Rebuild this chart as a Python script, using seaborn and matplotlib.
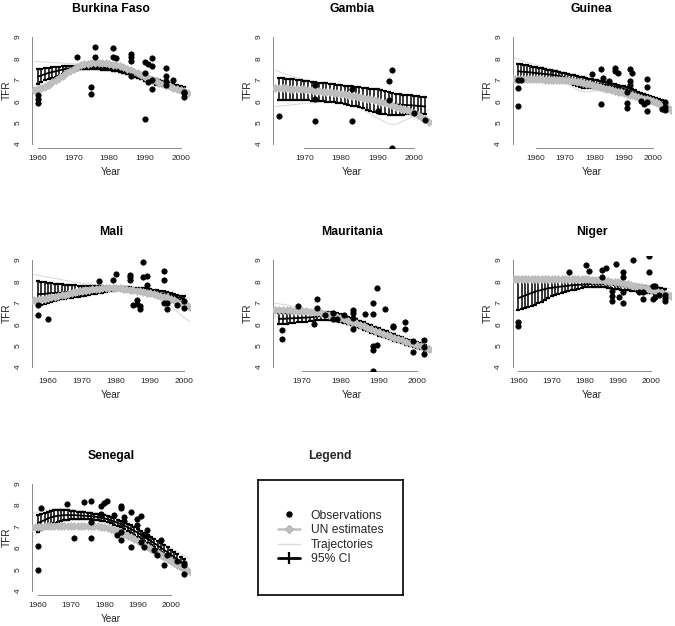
import numpy as np
import matplotlib
matplotlib.use('Agg')
import matplotlib.pyplot as plt
import seaborn as sns
from matplotlib.lines import Line2D
from matplotlib.ticker import MultipleLocator

sns.set_style('white')
plt.rcParams['font.family'] = ['Liberation Sans', 'DejaVu Sans']

countries = ['Burkina Faso', 'Gambia', 'Guinea', 'Mali', 'Mauritania', 'Niger', 'Senegal']

# observed TFR (survey year, value)
obs_year = {
    'Burkina Faso': [1960, 1960, 1960, 1971, 1975, 1975, 1976, 1976, 1981, 1981, 1982, 1986, 1986, 1986, 1986,
                     1990, 1990, 1990, 1991, 1991, 1992, 1992, 1992, 1992, 1996, 1996, 1996, 1996, 1998,
                     2001, 2001, 2001],
    'Gambia': [1963, 1973, 1973, 1973, 1983, 1983, 1990, 1993, 1993, 1994, 1994, 2000, 2003],
    'Guinea': [1954, 1954, 1954, 1955, 1979.2, 1982.2, 1982.2, 1983, 1985, 1987, 1987, 1988.1, 1991, 1991, 1991,
               1992, 1992, 1992, 1993, 1996, 1997, 1998, 1998, 1998, 1998, 2003, 2004, 2004, 2004],
    'Mali': [1957, 1957, 1960, 1975, 1979, 1980, 1984, 1984, 1984, 1985, 1986, 1986, 1987, 1987, 1988, 1988,
             1989, 1989, 1994, 1994, 1994, 1995, 1995, 1998, 2000, 2000],
    'Mauritania': [1964.7, 1964.7, 1969, 1973, 1974, 1974, 1976, 1978, 1978, 1979.2, 1981, 1983.2, 1983.2, 1983.2,
                   1983.2, 1986.4, 1988.5, 1988.5, 1988.5, 1988.5, 1988.5, 1989.5, 1989.5, 1991.6, 1993.6, 1993.6,
                   1996.8, 1996.8, 1998.8, 1998.8, 2001.8, 2001.8, 2001.8],
    'Niger': [1960, 1960, 1975.3, 1980.3, 1981.3, 1985.3, 1985.3, 1986.3, 1988.3, 1988.3, 1988.3, 1989.3, 1990.4,
              1991.4, 1991.4, 1991.4, 1991.4, 1994.4, 1996.4, 1997.4, 1997.4, 1999.4, 1999.4, 2000.4, 2000.4,
              2001.2, 2001.2, 2002.2, 2004.2, 2004.2, 2004.2],
    'Senegal': [1960, 1960, 1960.9, 1968.9, 1970.9, 1973.9, 1975.9, 1975.9, 1975.9, 1978.9, 1978.9, 1979.9, 1980.9,
                1982.9, 1983.9, 1984.9, 1984.9, 1984.9, 1984.9, 1985.9, 1985.9, 1987.9, 1987.9, 1989.9, 1989.9,
                1990.9, 1990.9, 1991.9, 1991.9, 1992.9, 1992.9, 1994.9, 1995.9, 1996.9, 1997.9, 1998.9, 2001.9,
                2003.9, 2003.9, 2003.9],
}
obs_tfr = {
    'Burkina Faso': [6.3, 6.1, 5.93, 8.08, 6.68, 6.32, 8.55, 8.08, 8.47, 8.08, 8.0, 8.2, 8.08, 7.88, 7.2,
                     7.85, 7.33, 5.15, 7.74, 6.91, 8.03, 7.65, 6.99, 6.55, 7.54, 7.18, 6.95, 6.75, 6.98,
                     6.45, 6.37, 6.2],
    'Gambia': [5.32, 6.76, 6.09, 5.09, 5.09, 6.55, 5.54, 6.94, 6.05, 7.46, 3.8, 5.43, 5.14],
    'Guinea': [6.99, 6.6, 5.79, 6.99, 7.26, 7.49, 5.85, 7.1, 6.94, 7.56, 7.43, 7.33, 6.45, 5.9, 5.67,
               7.49, 6.94, 6.76, 7.3, 6.0, 5.85, 7.04, 6.65, 5.98, 5.54, 5.62, 5.98, 5.71, 5.6],
    'Mali': [6.88, 6.41, 6.24, 8.0, 8.08, 8.35, 8.31, 8.19, 8.05, 6.91, 7.12, 6.96, 6.84, 6.73, 8.91, 8.2,
             8.24, 7.85, 8.5, 8.08, 6.99, 6.99, 6.71, 6.91, 7.07, 6.76],
    'Mauritania': [5.71, 5.31, 6.83, 6.03, 7.2, 6.74, 6.45, 6.52, 6.24, 6.24, 6.45, 6.66, 6.5, 6.3,
                   5.78, 6.48, 6.99, 6.48, 5.0, 4.78, 3.8, 7.69, 5.05, 6.73, 5.9, 5.85,
                   6.1, 5.79, 5.23, 4.69, 5.28, 4.95, 4.61],
    'Niger': [6.1, 5.9, 8.42, 8.78, 8.47, 8.52, 8.19, 8.63, 7.54, 7.3, 7.07, 8.83, 7.26,
              8.44, 8.19, 7.49, 6.99, 8.98, 7.49, 7.49, 7.2, 9.17, 8.44, 7.77, 7.2,
              7.77, 7.27, 7.38, 7.22, 7.38, 7.07],
    'Senegal': [6.07, 4.96, 7.85, 8.04, 6.46, 8.16, 8.21, 7.2, 6.46, 7.96, 7.58, 8.12, 8.21,
                7.54, 6.62, 7.96, 7.85, 6.72, 6.38, 7.44, 7.28, 7.67, 6.04, 7.34, 7.05,
                7.5, 6.26, 6.62, 6.04, 6.85, 6.57, 5.89, 5.69, 6.38, 5.18, 5.69, 5.38,
                5.3, 4.8, 5.22],
}

# UN estimates, one value per year starting at un_first
un_first = {'Burkina Faso': 1959, 'Gambia': 1962, 'Guinea': 1952, 'Mali': 1955,
            'Mauritania': 1962, 'Niger': 1958, 'Senegal': 1958}
un_tfr = {
    'Burkina Faso': [6.5, 6.55, 6.6, 6.68, 6.78, 6.9, 7.0, 7.1, 7.2, 7.3, 7.4, 7.5, 7.6, 7.67, 7.72, 7.76,
                     7.79, 7.8, 7.8, 7.79, 7.77, 7.74, 7.71, 7.68, 7.64, 7.58, 7.52, 7.45, 7.38, 7.3, 7.22,
                     7.14, 7.07, 7.0, 6.93, 6.87, 6.81, 6.76, 6.7, 6.64, 6.58, 6.52, 6.46, 6.4],
    'Gambia': [6.62, 6.62, 6.61, 6.6, 6.59, 6.58, 6.57, 6.56, 6.55, 6.53, 6.51, 6.49, 6.47, 6.45, 6.43,
               6.41, 6.39, 6.37, 6.35, 6.32, 6.29, 6.26, 6.23, 6.2, 6.16, 6.12, 6.08, 6.04, 6.0, 5.95,
               5.9, 5.85, 5.8, 5.75, 5.69, 5.63, 5.57, 5.51, 5.45, 5.35, 5.25, 5.15, 5.05],
    'Guinea': [7.04, 7.04, 7.04, 7.03, 7.03, 7.03, 7.03, 7.02, 7.02, 7.02, 7.02, 7.01, 7.01, 7.01, 7.01,
               7.0, 7.0, 7.0, 6.99, 6.97, 6.95, 6.93, 6.9, 6.88, 6.85, 6.82, 6.79, 6.75, 6.72, 6.69,
               6.65, 6.62, 6.58, 6.55, 6.52, 6.48, 6.45, 6.41, 6.38, 6.34, 6.31, 6.27, 6.24, 6.2, 6.16,
               6.12, 6.08, 6.04, 6.0, 5.94, 5.88, 5.82, 5.75, 5.67, 5.6],
    'Mali': [7.1, 7.12, 7.14, 7.17, 7.19, 7.22, 7.25, 7.28, 7.31, 7.35, 7.38, 7.42, 7.46, 7.5, 7.54,
             7.57, 7.59, 7.61, 7.63, 7.65, 7.66, 7.67, 7.68, 7.69, 7.69, 7.69, 7.68, 7.66, 7.64, 7.62,
             7.6, 7.57, 7.54, 7.51, 7.48, 7.45, 7.41, 7.37, 7.33, 7.29, 7.25, 7.19, 7.12, 7.05, 6.98,
             6.92, 6.85, 6.78],
    'Mauritania': [6.69, 6.68, 6.68, 6.67, 6.66, 6.65, 6.64, 6.63, 6.62, 6.61, 6.59, 6.57, 6.55, 6.52,
                   6.49, 6.45, 6.4, 6.35, 6.29, 6.23, 6.16, 6.1, 6.04, 5.97, 5.9, 5.83, 5.76, 5.7, 5.63,
                   5.56, 5.5, 5.43, 5.37, 5.3, 5.24, 5.17, 5.11, 5.06, 5.01, 4.96, 4.91, 4.86, 4.81],
    'Niger': [8.13, 8.13, 8.13, 8.13, 8.13, 8.12, 8.12, 8.12, 8.12, 8.12, 8.11, 8.11, 8.11, 8.11, 8.11,
              8.1, 8.1, 8.1, 8.1, 8.1, 8.1, 8.09, 8.09, 8.09, 8.08, 8.07, 8.06, 8.05, 8.03, 8.01, 7.99,
              7.97, 7.95, 7.92, 7.89, 7.86, 7.83, 7.8, 7.76, 7.72, 7.68, 7.64, 7.6, 7.55, 7.5, 7.45,
              7.4, 7.35, 7.3],
    'Senegal': [6.95, 6.97, 6.98, 6.99, 7.0, 7.0, 7.0, 7.0, 7.0, 7.0, 7.0, 7.0, 7.0, 7.0, 7.0, 7.0,
                7.0, 7.0, 7.0, 7.0, 7.0, 6.99, 6.97, 6.94, 6.89, 6.84, 6.78, 6.72, 6.65, 6.57, 6.49,
                6.41, 6.32, 6.23, 6.14, 6.05, 5.95, 5.86, 5.77, 5.68, 5.58, 5.49, 5.4, 5.31, 5.22, 5.13,
                5.04, 4.95, 4.86],
}

# 95% CI: lower, median, upper, one value per year starting at ci_first
ci_first = {'Burkina Faso': 1960, 'Gambia': 1963, 'Guinea': 1954, 'Mali': 1957,
            'Mauritania': 1964, 'Niger': 1960, 'Senegal': 1960}
ci_low = {
    'Burkina Faso': [6.8, 6.9, 7.0, 7.05, 7.1, 7.15, 7.2, 7.28, 7.35, 7.4, 7.45, 7.48, 7.5, 7.5, 7.5,
                     7.5, 7.5, 7.5, 7.48, 7.46, 7.44, 7.42, 7.4, 7.36, 7.32, 7.26, 7.2, 7.14, 7.08, 7.02,
                     6.96, 6.9, 6.84, 6.78, 6.74, 6.7, 6.66, 6.62, 6.56, 6.5, 6.44, 6.38],
    'Gambia': [6.05, 6.05, 6.05, 6.05, 6.05, 6.05, 6.05, 6.05, 6.04, 6.03, 6.02, 6.01, 6.0, 5.98, 5.96,
               5.94, 5.92, 5.9, 5.86, 5.83, 5.79, 5.76, 5.72, 5.66, 5.61, 5.55, 5.5, 5.45, 5.42, 5.38,
               5.35, 5.35, 5.35, 5.36, 5.37, 5.38, 5.39, 5.4, 5.4, 5.4, 5.4],
    'Guinea': [7.05, 7.05, 7.05, 7.05, 7.05, 7.05, 7.05, 7.05, 7.05, 7.05, 7.05, 7.05, 7.04, 7.02, 7.0,
               6.97, 6.94, 6.9, 6.84, 6.78, 6.72, 6.67, 6.63, 6.6, 6.6, 6.62, 6.64, 6.65, 6.65, 6.64,
               6.62, 6.6, 6.58, 6.55, 6.52, 6.49, 6.45, 6.4, 6.35, 6.3, 6.25, 6.2, 6.14, 6.08, 6.02,
               5.96, 5.9, 5.85, 5.8, 5.75, 5.7],
    'Mali': [6.85, 6.9, 6.95, 7.0, 7.04, 7.08, 7.12, 7.16, 7.2, 7.22, 7.24, 7.26, 7.28, 7.3, 7.33, 7.36,
             7.39, 7.42, 7.45, 7.48, 7.51, 7.54, 7.57, 7.6, 7.6, 7.6, 7.59, 7.57, 7.55, 7.53, 7.51, 7.49,
             7.47, 7.45, 7.42, 7.39, 7.36, 7.33, 7.3, 7.26, 7.22, 7.18, 7.14, 7.1],
    'Mauritania': [6.0, 6.0, 6.02, 6.04, 6.06, 6.08, 6.1, 6.12, 6.14, 6.16, 6.18, 6.2, 6.2, 6.2, 6.18,
                   6.15, 6.1, 6.05, 6.0, 5.94, 5.88, 5.82, 5.75, 5.68, 5.61, 5.54, 5.47, 5.41, 5.35,
                   5.29, 5.23, 5.17, 5.11, 5.05, 4.99, 4.93, 4.87, 4.82, 4.77],
    'Niger': [6.68, 6.72, 6.77, 6.82, 6.86, 6.9, 6.98, 7.06, 7.14, 7.22, 7.3, 7.35, 7.4, 7.45, 7.5, 7.54,
              7.58, 7.62, 7.66, 7.7, 7.74, 7.75, 7.76, 7.76, 7.75, 7.74, 7.72, 7.7, 7.68, 7.66, 7.64,
              7.62, 7.6, 7.58, 7.56, 7.54, 7.52, 7.5, 7.48, 7.46, 7.44, 7.42, 7.4, 7.38, 7.36],
    'Senegal': [6.75, 6.85, 6.95, 7.05, 7.12, 7.18, 7.22, 7.26, 7.29, 7.31, 7.33, 7.34, 7.35, 7.35, 7.35,
                7.34, 7.33, 7.32, 7.3, 7.27, 7.24, 7.2, 7.15, 7.09, 7.03, 6.96, 6.88, 6.8, 6.71, 6.62,
                6.53, 6.43, 6.33, 6.23, 6.13, 6.02, 5.91, 5.8, 5.69, 5.58, 5.46, 5.34, 5.2, 5.02, 4.82],
}
ci_med = {
    'Burkina Faso': [7.15, 7.2, 7.27, 7.32, 7.36, 7.4, 7.44, 7.48, 7.52, 7.54, 7.55, 7.55, 7.55, 7.55,
                     7.55, 7.55, 7.55, 7.55, 7.53, 7.52, 7.5, 7.49, 7.47, 7.43, 7.39, 7.34, 7.29, 7.23,
                     7.18, 7.12, 7.07, 7.01, 6.96, 6.9, 6.86, 6.82, 6.78, 6.74, 6.68, 6.62, 6.57, 6.51],
    'Gambia': [6.55, 6.54, 6.53, 6.51, 6.5, 6.48, 6.47, 6.45, 6.44, 6.42, 6.41, 6.39, 6.38, 6.36, 6.35,
               6.33, 6.32, 6.3, 6.27, 6.24, 6.21, 6.18, 6.15, 6.12, 6.09, 6.06, 6.03, 6.0, 5.97, 5.94,
               5.91, 5.88, 5.85, 5.84, 5.83, 5.82, 5.81, 5.8, 5.78, 5.77, 5.75],
    'Guinea': [7.4, 7.38, 7.37, 7.36, 7.35, 7.33, 7.32, 7.3, 7.29, 7.27, 7.26, 7.24, 7.22, 7.2, 7.18,
               7.15, 7.12, 7.08, 7.04, 7.0, 6.96, 6.92, 6.88, 6.85, 6.83, 6.82, 6.82, 6.81, 6.8, 6.78,
               6.76, 6.74, 6.71, 6.68, 6.65, 6.62, 6.58, 6.53, 6.48, 6.43, 6.38, 6.33, 6.28, 6.23, 6.17,
               6.11, 6.05, 6.0, 5.95, 5.9, 5.85],
    'Mali': [7.4, 7.41, 7.42, 7.44, 7.45, 7.46, 7.47, 7.48, 7.5, 7.51, 7.52, 7.53, 7.54, 7.55, 7.56, 7.57,
             7.58, 7.59, 7.6, 7.62, 7.63, 7.65, 7.66, 7.68, 7.68, 7.68, 7.67, 7.66, 7.64, 7.62, 7.6, 7.58,
             7.56, 7.54, 7.51, 7.48, 7.45, 7.42, 7.39, 7.35, 7.31, 7.27, 7.23, 7.2],
    'Mauritania': [6.25, 6.25, 6.26, 6.27, 6.28, 6.29, 6.3, 6.31, 6.32, 6.34, 6.36, 6.38, 6.39, 6.39,
                   6.37, 6.33, 6.28, 6.23, 6.17, 6.11, 6.05, 5.98, 5.91, 5.84, 5.77, 5.7, 5.63, 5.57,
                   5.5, 5.44, 5.37, 5.31, 5.25, 5.19, 5.13, 5.07, 5.01, 4.96, 4.91],
    'Niger': [7.22, 7.28, 7.34, 7.4, 7.46, 7.52, 7.56, 7.6, 7.64, 7.68, 7.7, 7.72, 7.74, 7.76, 7.78, 7.8,
              7.82, 7.83, 7.84, 7.85, 7.86, 7.87, 7.87, 7.87, 7.87, 7.87, 7.86, 7.85, 7.84, 7.82, 7.8,
              7.78, 7.76, 7.74, 7.72, 7.7, 7.68, 7.66, 7.64, 7.62, 7.6, 7.58, 7.56, 7.53, 7.5],
    'Senegal': [7.15, 7.23, 7.3, 7.37, 7.43, 7.47, 7.5, 7.52, 7.53, 7.53, 7.53, 7.53, 7.52, 7.51, 7.5,
                7.49, 7.48, 7.46, 7.44, 7.41, 7.38, 7.34, 7.29, 7.23, 7.17, 7.11, 7.04, 6.96, 6.88, 6.8,
                6.71, 6.62, 6.52, 6.42, 6.32, 6.22, 6.12, 6.01, 5.9, 5.8, 5.69, 5.58, 5.45, 5.3, 5.14],
}
ci_high = {
    'Burkina Faso': [7.5, 7.52, 7.54, 7.56, 7.58, 7.6, 7.62, 7.64, 7.66, 7.66, 7.64, 7.62, 7.6, 7.6, 7.6,
                     7.6, 7.6, 7.6, 7.58, 7.57, 7.56, 7.55, 7.53, 7.5, 7.46, 7.42, 7.37, 7.32, 7.27, 7.22,
                     7.17, 7.12, 7.07, 7.02, 6.98, 6.94, 6.9, 6.86, 6.8, 6.75, 6.7, 6.65],
    'Gambia': [7.1, 7.08, 7.06, 7.04, 7.02, 7.0, 6.98, 6.95, 6.93, 6.91, 6.89, 6.87, 6.85, 6.83, 6.81,
               6.79, 6.77, 6.75, 6.73, 6.71, 6.69, 6.67, 6.65, 6.63, 6.61, 6.59, 6.57, 6.55, 6.51, 6.47,
               6.43, 6.39, 6.35, 6.33, 6.31, 6.29, 6.27, 6.25, 6.23, 6.21, 6.2],
    'Guinea': [7.75, 7.72, 7.7, 7.67, 7.65, 7.62, 7.6, 7.57, 7.54, 7.51, 7.48, 7.45, 7.42, 7.39, 7.36,
               7.33, 7.3, 7.27, 7.24, 7.21, 7.18, 7.15, 7.12, 7.09, 7.06, 7.03, 7.0, 6.97, 6.94, 6.91,
               6.88, 6.85, 6.82, 6.79, 6.76, 6.73, 6.7, 6.65, 6.6, 6.55, 6.5, 6.45, 6.4, 6.35, 6.3,
               6.25, 6.2, 6.15, 6.1, 6.05, 6.0],
    'Mali': [8.0, 7.98, 7.96, 7.94, 7.92, 7.9, 7.88, 7.86, 7.84, 7.83, 7.82, 7.81, 7.8, 7.8, 7.79, 7.79,
             7.78, 7.78, 7.77, 7.77, 7.76, 7.76, 7.75, 7.75, 7.74, 7.74, 7.73, 7.72, 7.71, 7.7, 7.69, 7.68,
             7.67, 7.65, 7.62, 7.59, 7.56, 7.53, 7.5, 7.46, 7.42, 7.38, 7.34, 7.3],
    'Mauritania': [6.5, 6.5, 6.5, 6.5, 6.5, 6.5, 6.5, 6.5, 6.51, 6.52, 6.54, 6.56, 6.58, 6.58, 6.56, 6.52,
                   6.47, 6.41, 6.35, 6.29, 6.22, 6.15, 6.08, 6.01, 5.94, 5.87, 5.8, 5.73, 5.66, 5.59,
                   5.52, 5.45, 5.39, 5.33, 5.27, 5.21, 5.15, 5.1, 5.05],
    'Niger': [8.05, 8.05, 8.05, 8.05, 8.05, 8.05, 8.05, 8.05, 8.05, 8.05, 8.05, 8.05, 8.05, 8.05, 8.05,
              8.05, 8.05, 8.05, 8.05, 8.05, 8.05, 8.05, 8.05, 8.05, 8.04, 8.02, 8.0, 7.98, 7.96, 7.95,
              7.94, 7.92, 7.9, 7.88, 7.86, 7.84, 7.82, 7.8, 7.78, 7.76, 7.74, 7.72, 7.7, 7.68, 7.66],
    'Senegal': [7.55, 7.6, 7.65, 7.7, 7.74, 7.77, 7.78, 7.78, 7.77, 7.76, 7.74, 7.72, 7.7, 7.68, 7.66,
                7.64, 7.62, 7.6, 7.58, 7.55, 7.52, 7.48, 7.43, 7.38, 7.32, 7.26, 7.19, 7.12, 7.05, 6.97,
                6.89, 6.8, 6.71, 6.62, 6.52, 6.42, 6.32, 6.22, 6.12, 6.02, 5.92, 5.81, 5.7, 5.58, 5.46],
}

# two sample trajectories per country (year, value)
traj_a = {
    'Burkina Faso': ([1959, 1965, 1970, 1975, 1980, 1985, 1990, 1995, 2000, 2002],
                     [7.85, 7.8, 7.75, 7.7, 7.62, 7.5, 7.25, 7.0, 6.75, 6.65]),
    'Gambia': ([1962, 1965, 1970, 1975, 1980, 1985, 1990, 1995, 2000, 2004],
               [7.45, 7.25, 7.0, 6.85, 6.75, 6.65, 6.5, 6.35, 6.25, 6.15]),
    'Guinea': ([1952, 1955, 1960, 1965, 1970, 1975, 1980, 1985, 1990, 1995, 2000, 2006],
               [8.05, 7.9, 7.7, 7.52, 7.35, 7.2, 7.05, 6.9, 6.7, 6.45, 6.2, 5.85]),
    'Mali': ([1955, 1960, 1965, 1970, 1975, 1980, 1985, 1990, 1995, 2000, 2002],
             [8.35, 8.2, 8.05, 7.92, 7.82, 7.78, 7.72, 7.65, 7.5, 7.3, 7.2]),
    'Mauritania': ([1962, 1966, 1970, 1975, 1980, 1985, 1990, 1995, 2000, 2004],
                   [7.0, 6.9, 6.75, 6.62, 6.45, 6.2, 5.85, 5.5, 5.15, 4.95]),
    'Niger': ([1958, 1965, 1970, 1980, 1985, 1990, 1995, 2000, 2006],
              [8.2, 8.18, 8.15, 8.12, 8.08, 7.98, 7.88, 7.78, 7.65]),
    'Senegal': ([1958, 1962, 1966, 1970, 1975, 1980, 1985, 1990, 1995, 2000, 2006],
                [7.6, 7.75, 7.85, 7.8, 7.7, 7.6, 7.3, 6.95, 6.45, 6.0, 5.45]),
}
traj_b = {
    'Burkina Faso': ([1959, 1965, 1970, 1975, 1980, 1985, 1990, 1995, 2000, 2002],
                     [6.6, 7.05, 7.4, 7.45, 7.4, 7.2, 6.9, 6.65, 6.4, 6.3]),
    'Gambia': ([1962, 1965, 1970, 1975, 1980, 1985, 1990, 1993, 1995, 2000, 2004],
               [5.75, 5.8, 5.9, 5.95, 5.95, 5.7, 5.2, 4.95, 4.92, 5.3, 5.6]),
    'Guinea': ([1952, 1960, 1965, 1970, 1974, 1977, 1980, 1985, 1990, 1995, 2000, 2006],
               [6.95, 7.0, 6.98, 6.85, 6.55, 6.42, 6.48, 6.5, 6.35, 6.1, 5.85, 5.5]),
    'Mali': ([1955, 1960, 1965, 1970, 1975, 1980, 1985, 1990, 1995, 2000, 2002],
             [7.0, 7.05, 7.2, 7.35, 7.5, 7.6, 7.55, 7.35, 7.0, 6.3, 6.1]),
    'Mauritania': ([1962, 1966, 1970, 1975, 1980, 1985, 1990, 1995, 2000, 2004],
                   [6.35, 6.3, 6.25, 6.2, 6.05, 5.8, 5.45, 5.15, 4.85, 4.65]),
    'Niger': ([1958, 1962, 1966, 1970, 1975, 1980, 1985, 1990, 1995, 2000, 2006],
              [6.6, 6.75, 7.0, 7.3, 7.55, 7.72, 7.72, 7.6, 7.5, 7.4, 7.25]),
    'Senegal': ([1958, 1962, 1966, 1970, 1975, 1980, 1985, 1990, 1995, 2000, 2006],
                [6.5, 6.85, 7.15, 7.3, 7.3, 7.2, 6.9, 6.45, 5.95, 5.4, 4.7]),
}

# layout in pixels
W, H = 675, 626
AW, AH = 158, 115.6
col_left = [32, 273, 512.5]
row_top = [32.7, 255.7, 479.4]

UN_COL = '#c0c0c0'
TRAJ_COL = '#dcdcdc'
AXIS_COL = '#8a8a8a'
TEXT_COL = '#222222'

fig = plt.figure(figsize=(W / 100, H / 100), dpi=100)

for i, name in enumerate(countries):
    left, top = col_left[i % 3], row_top[i // 3]
    ax = fig.add_axes([left / W, 1 - (top + AH) / H, AW / W, AH / H])

    ci_years = np.arange(ci_first[name], ci_first[name] + len(ci_med[name]))
    un_years = np.arange(un_first[name], un_first[name] + len(un_tfr[name]))
    low, med, high = np.array(ci_low[name]), np.array(ci_med[name]), np.array(ci_high[name])

    for ty, tv in (traj_a[name], traj_b[name]):
        sns.lineplot(x=ty, y=tv, color=TRAJ_COL, lw=0.8, ax=ax, zorder=1)

    ax.errorbar(ci_years, med, yerr=[med - low, high - med], fmt='-', color='black', lw=1.3,
                elinewidth=1.1, capsize=1.6, capthick=1.6, zorder=2)

    sns.lineplot(x=un_years, y=un_tfr[name], color=UN_COL, lw=3.0, marker='D', markersize=4.2,
                 markeredgecolor='#b4b4b4', markeredgewidth=0.4, ax=ax, zorder=3)

    sns.scatterplot(x=obs_year[name], y=obs_tfr[name], color='black', s=15, edgecolor='black',
                    linewidth=0.5, ax=ax, zorder=4)

    span = ci_years[-1] - ci_years[0]
    x0, x1 = ci_years[0] - 0.04 * span, ci_years[-1] + 0.04 * span
    ax.set_xlim(x0, x1)
    ax.set_ylim(3.8, 9.2)
    ax.xaxis.set_major_locator(MultipleLocator(10))
    ax.set_yticks([4, 5, 6, 7, 8, 9])

    for s in ['top', 'right']:
        ax.spines[s].set_visible(False)
    for s in ['left', 'bottom']:
        ax.spines[s].set_color(AXIS_COL)
        ax.spines[s].set_linewidth(0.7)
    ax.spines['left'].set_bounds(4, 9)
    ax.spines['bottom'].set_bounds(np.ceil(x0 / 10) * 10, np.floor(x1 / 10) * 10)

    ax.tick_params(axis='both', length=2.4, width=0.7, color=AXIS_COL, labelsize=6.0,
                   labelcolor=TEXT_COL)
    ax.tick_params(axis='x', pad=2.4)
    ax.tick_params(axis='y', pad=5.0, labelrotation=90)
    for lab in ax.get_yticklabels():
        lab.set_va('center')

    ax.set_title(name, fontsize=8.8, fontweight='bold', pad=15, color='black')
    ax.set_xlabel('Year', fontsize=7.2, color=TEXT_COL)
    ax.set_ylabel('TFR', fontsize=7.2, color=TEXT_COL)
    ax.xaxis.set_label_coords(0.5, -18.5 / AH)
    ax.yaxis.set_label_coords(-20 / AW, 0.5)

# legend panel
lax = fig.add_axes([258 / W, 1 - 595 / H, 145 / W, 115 / H])
lax.set_xticks([])
lax.set_yticks([])
for s in lax.spines.values():
    s.set_color('black')
    s.set_linewidth(1.2)
    s.set_visible(True)

handles = [
    Line2D([], [], ls='none', marker='o', color='black', markersize=3.6),
    Line2D([], [], color=UN_COL, lw=1.8, marker='D', markersize=4.2, markeredgecolor='#b4b4b4'),
    Line2D([], [], color=TRAJ_COL, lw=1.0),
    Line2D([], [], color='black', lw=2.0, marker='|', markersize=8, markeredgewidth=1.6),
]
labels = ['Observations', 'UN estimates', 'Trajectories', '95% CI']
lax.legend(handles, labels, loc='center', frameon=False, fontsize=8.7, handlelength=1.85,
           handletextpad=0.9, labelspacing=0.22, borderpad=0)
fig.text(330 / W, 1 - 459 / H, 'Legend', ha='center', va='baseline', fontsize=8.8, fontweight='bold')

fig.savefig('out.png', dpi=100)
